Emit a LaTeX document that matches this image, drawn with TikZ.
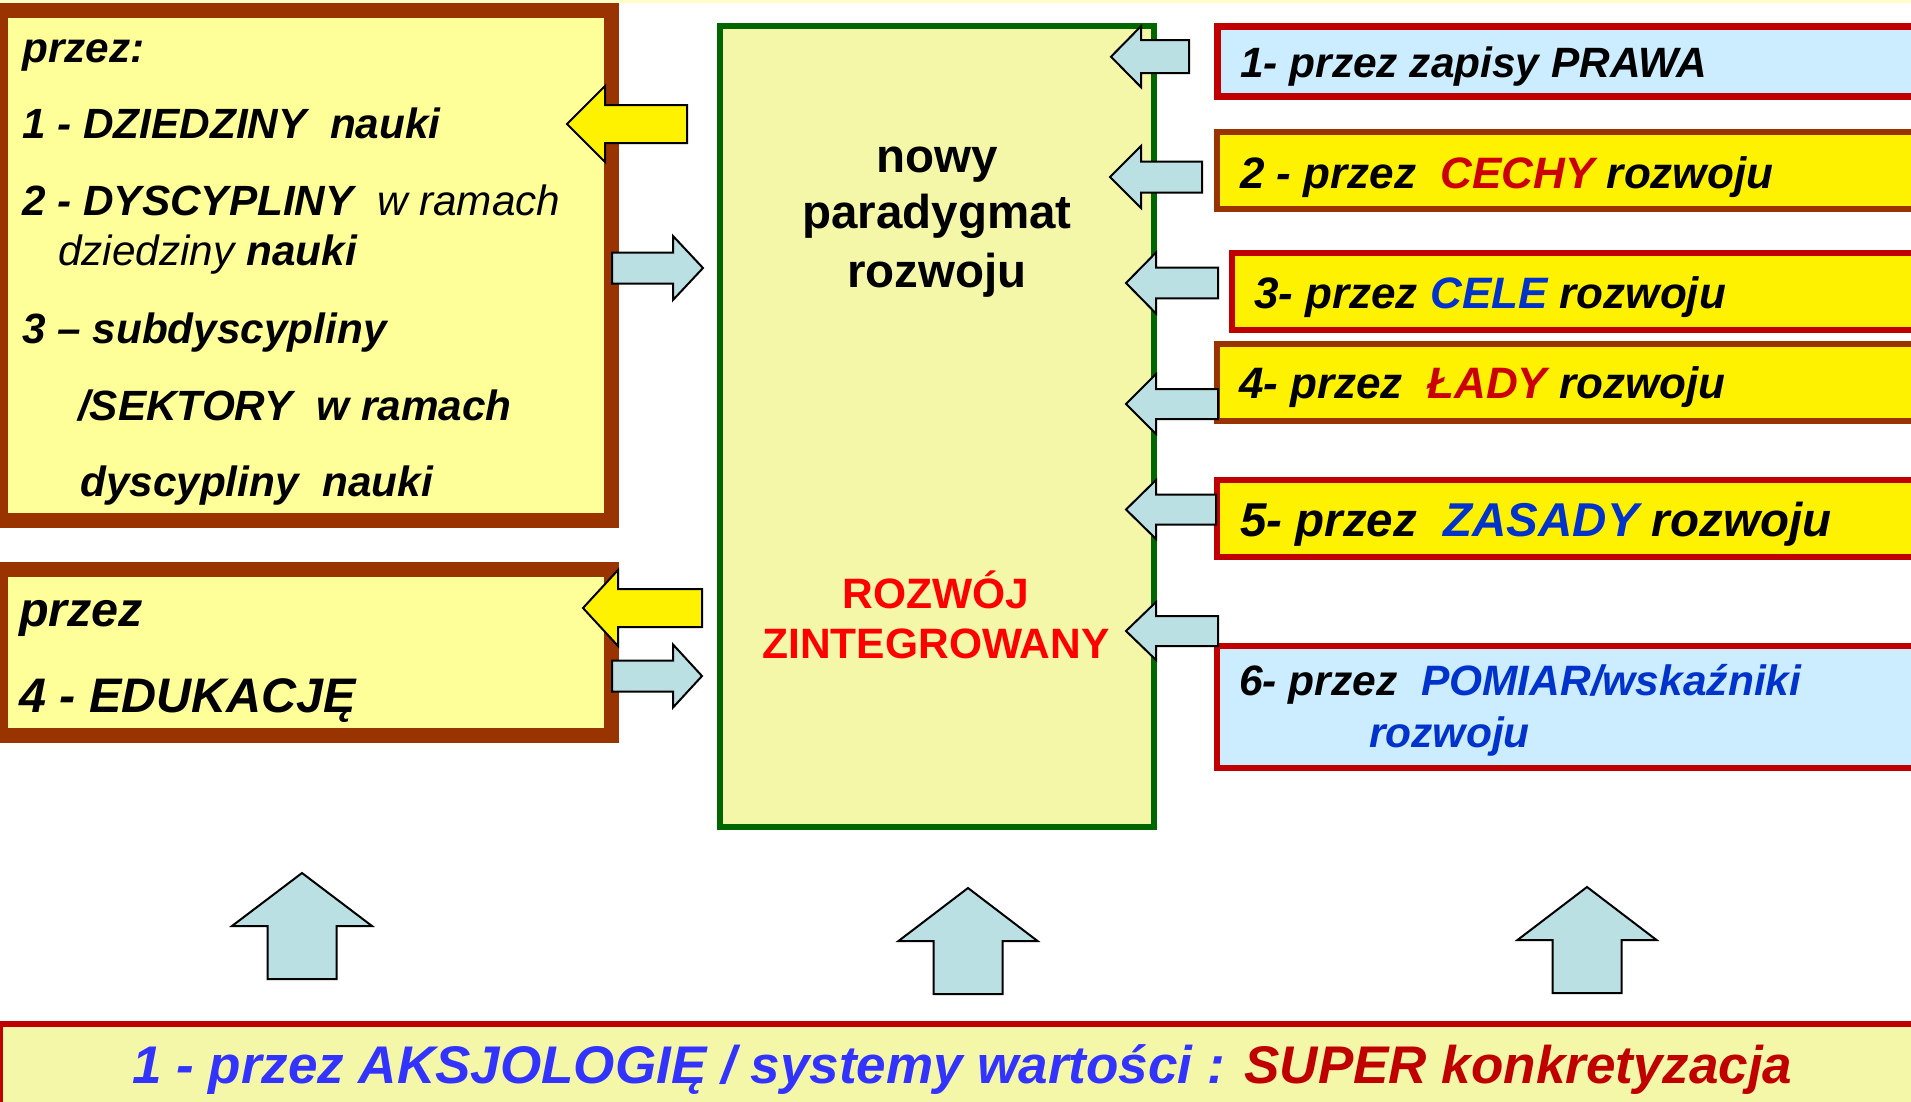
\documentclass[tikz,border=0pt]{standalone}
\usepackage{fontspec}
\setmainfont{Liberation Sans}
\usetikzlibrary{positioning}

\definecolor{brick}{HTML}{993300}
\definecolor{leaf}{HTML}{006600}
\definecolor{crimson}{HTML}{C00000}
\definecolor{cherry}{HTML}{CC0000}
\definecolor{navy}{HTML}{0033CC}
\definecolor{ink}{HTML}{3333FF}
\definecolor{sky}{HTML}{CCECFF}
\definecolor{cream}{HTML}{FFFF99}
\definecolor{pale}{HTML}{F4F6A8}
\definecolor{ice}{HTML}{BBE0E3}
\definecolor{topband}{HTML}{FFFFC8}

\newcommand{\txtsize}[1]{\fontsize{#1}{#1}\selectfont}
% flat block arrow: tip x, y, head base x, tail x, head half, shaft half, fill
\newcommand{\flatarrow}[7]{%
  \draw [blockarrow, fill=#7] (#1,#2) -- (#3,#2-#5) -- (#3,#2-#6) -- (#4,#2-#6)
    -- (#4,#2+#6) -- (#3,#2+#6) -- (#3,#2+#5) -- cycle;}
% upward block arrow: x, tip y, head base y, tail y, head half, shaft half
\newcommand{\risearrow}[6]{%
  \draw [blockarrow, fill=ice] (#1,#2) -- (#1-#5,#3) -- (#1-#6,#3) -- (#1-#6,#4)
    -- (#1+#6,#4) -- (#1+#6,#3) -- (#1+#5,#3) -- cycle;}

\begin{document}
\begin{tikzpicture}[x=1pt, y=-1pt,
  box/.style={draw, inner sep=0pt, outer sep=0pt, anchor=north west},
  txt/.style={inner sep=0pt, anchor=base west},
  mid/.style={inner sep=0pt, anchor=base},
  lefttxt/.style={txt, font=\bfseries\itshape\txtsize{42.3}},
  righttxt/.style={txt, font=\bfseries\itshape\txtsize{44}},
  blockarrow/.style={draw=black, line width=2pt, line join=miter}]

\useasboundingbox (0,0) rectangle (1911,1101);
\clip (0,0) rectangle (1911,1101);
\fill [white] (0,0) rectangle (1911,1101);
\fill [topband] (0,0) rectangle (1911,2.5);

% boxes
\node [box, line width=15pt, draw=brick, fill=cream, minimum width=611pt, minimum height=510pt] (dziedziny) at (0.5,10.5) {};
\node [box, line width=15pt, draw=brick, fill=cream, minimum width=611pt, minimum height=165.5pt] (edukacja) at (0.5,569.5) {};
\node [box, line width=6pt, draw=leaf, fill=pale, minimum width=434pt, minimum height=801pt] (paradygmat) at (720,26) {};

\node [box, line width=7pt, draw=crimson, fill=sky, minimum width=720pt, minimum height=70.5pt] (prawa) at (1217,26) {};
\node [box, line width=6pt, draw=brick, fill=yellow, minimum width=720pt, minimum height=77pt] (cechy) at (1217,132) {};
\node [box, line width=6pt, draw=crimson, fill=yellow, minimum width=720pt, minimum height=77pt] (cele) at (1232,253) {};
\node [box, line width=6pt, draw=brick, fill=yellow, minimum width=720pt, minimum height=77.3pt] (lady) at (1217,343.7) {};
\node [box, line width=6pt, draw=crimson, fill=yellow, minimum width=720pt, minimum height=77.3pt] (zasady) at (1217,479.7) {};
\node [box, line width=6pt, draw=crimson, fill=sky, minimum width=720pt, minimum height=121.7pt] (pomiar) at (1217,646) {};

\node [box, line width=6pt, draw=crimson, fill=pale, minimum width=1930pt, minimum height=200pt] (aksjologia) at (0,1023.7) {};

% arrows
\flatarrow{567}{124}{605}{687}{38}{19}{yellow}
\flatarrow{703}{268}{673}{612}{32}{15.5}{ice}
\flatarrow{583}{608}{618}{702}{38}{19}{yellow}
\flatarrow{702}{676}{673}{612}{31.5}{15.5}{ice}

\flatarrow{1111}{56.7}{1141}{1189}{30.5}{16.5}{ice}
\flatarrow{1110}{177}{1141}{1202}{31}{15.5}{ice}
\flatarrow{1126}{283}{1156}{1218}{30.5}{15.3}{ice}
\flatarrow{1126}{404}{1156}{1218}{30}{15}{ice}
\flatarrow{1126}{509.5}{1156}{1216}{29.5}{15}{ice}
\flatarrow{1126}{631}{1156}{1218}{29}{15}{ice}

\risearrow{302}{873}{926}{979}{70}{34.5}
\risearrow{968}{888}{941}{994}{69.5}{34.5}
\risearrow{1587}{887}{940}{993}{69.5}{34.5}

% texts, left
\node [lefttxt] (przez1) at (22,62) {przez:};
\node [lefttxt] (dziedz) at (22,138) {1 - DZIEDZINY\ \ nauki};
\node [lefttxt] (dyscyp) at (22,215) {2 - DYSCYPLINY\ \ {\mdseries w ramach}};
\node [lefttxt] (dyscypb) at (58,265) {{\mdseries dziedziny} nauki};
\node [lefttxt] (subdys) at (22,343) {3 – subdyscypliny};
\node [lefttxt] (sektory) at (78,420) {/SEKTORY\ \ w ramach};
\node [lefttxt] (dyscypc) at (80,496) {dyscypliny\ \ nauki};

\node [txt, font=\bfseries\itshape\txtsize{48.5}] (przez2) at (19,626) {przez};
\node [txt, font=\bfseries\itshape\txtsize{48.5}] (edu) at (19,712) {4 - EDUKACJĘ};

% texts, centre
\node [mid, font=\bfseries\txtsize{47.5}] (nowy) at (937,172) {nowy};
\node [mid, font=\bfseries\txtsize{47.5}] (parad) at (937,228) {paradygmat};
\node [mid, font=\bfseries\txtsize{47.5}] (rozw) at (937,287) {rozwoju};
\node [mid, font=\bfseries\txtsize{42.5}, text=red] (rozwoj) at (936,608) {ROZWÓJ};
\node [mid, font=\bfseries\txtsize{42.5}, text=red] (zintegr) at (936,658) {ZINTEGROWANY};

% texts, right
\node [righttxt, font=\bfseries\itshape\txtsize{42.4}] (t1) at (1240,77) {1- przez zapisy PRAWA};
\node [righttxt] (t2) at (1240,188) {2 - przez\ \ \textcolor{cherry}{CECHY} rozwoju};
\node [righttxt] (t3) at (1254,308) {3- przez \textcolor{navy}{CELE} rozwoju};
\node [righttxt] (t4) at (1239,398) {4- przez\ \ \textcolor{cherry}{ŁADY} rozwoju};
\node [righttxt, font=\bfseries\itshape\txtsize{47.5}] (t5) at (1240,536) {5- przez\ \ \textcolor{navy}{ZASADY} rozwoju};
\node [righttxt, font=\bfseries\itshape\txtsize{42.5}] (t6) at (1239,695) {6- przez\ \ \textcolor{navy}{POMIAR/wskaźniki}};
\node [righttxt, font=\bfseries\itshape\txtsize{42.5}, text=navy] (t6b) at (1369,747) {rozwoju};

% bottom
\node [txt, font=\bfseries\itshape\txtsize{53}, text=ink] (aks) at (132,1083)
  {1 - przez AKSJOLOGIĘ / systemy wartości : \textcolor{crimson}{SUPER konkretyzacja}};

\end{tikzpicture}
\end{document}
